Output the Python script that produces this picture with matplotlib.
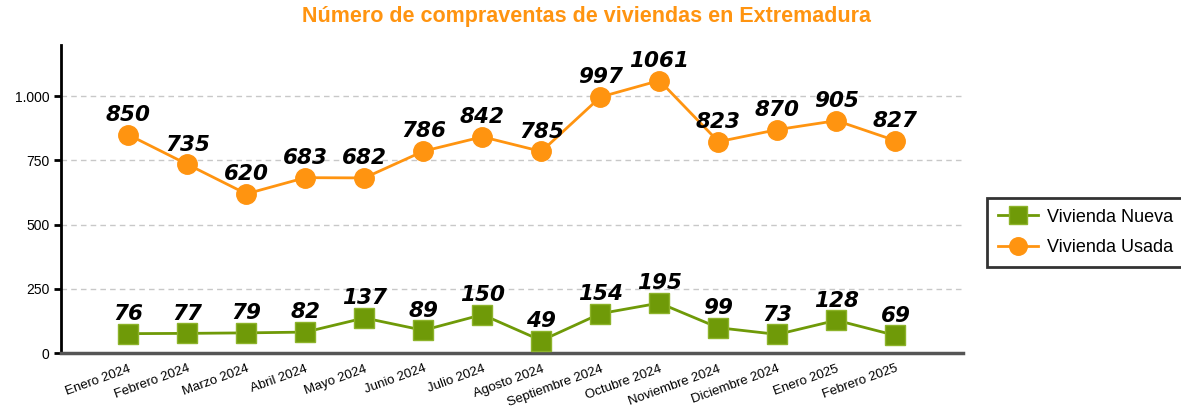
import matplotlib
matplotlib.use("Agg")
import matplotlib.pyplot as plt
from matplotlib.ticker import FuncFormatter

months = ["Enero 2024", "Febrero 2024", "Marzo 2024", "Abril 2024", "Mayo 2024",
          "Junio 2024", "Julio 2024", "Agosto 2024", "Septiembre 2024", "Octubre 2024",
          "Noviembre 2024", "Diciembre 2024", "Enero 2025", "Febrero 2025"]
nueva = [76, 77, 79, 82, 137, 89, 150, 49, 154, 195, 99, 73, 128, 69]
usada = [850, 735, 620, 683, 682, 786, 842, 785, 997, 1061, 823, 870, 905, 827]

ORANGE = "#FF9410"
GREEN = "#6F9A08"

plt.rcParams["font.family"] = ["Liberation Sans", "DejaVu Sans"]

fig = plt.figure(figsize=(11.81, 4.15), dpi=100)
ax = fig.add_axes([0.0517, 0.149, 0.764, 0.743])

x = list(range(len(months)))
ax.plot(x, nueva, color=GREEN, lw=2, marker="s", ms=14, mec="#8DB32A", mew=1,
        label="Vivienda Nueva", zorder=3)
ax.plot(x, usada, color=ORANGE, lw=2, marker="o", ms=14, mec=ORANGE,
        label="Vivienda Usada", zorder=3)

# data labels above each point
for series in (nueva, usada):
    for xi, v in zip(x, series):
        ax.annotate(str(v), (xi, v), xytext=(0, 7), textcoords="offset points",
                    ha="center", va="bottom", fontsize=15.5, fontweight="bold",
                    fontstyle="italic", family="DejaVu Sans")

ax.set_xlim(-1.14, 14.15)
ax.set_ylim(0, 1200)
ax.set_yticks([0, 250, 500, 750, 1000])
ax.yaxis.set_major_formatter(FuncFormatter(lambda v, p: f"{int(v):,}".replace(",", ".")))
ax.set_xticks(x)
ax.set_xticklabels(months, rotation=20, ha="right", rotation_mode="anchor", fontsize=9.5)
ax.tick_params(axis="x", length=0, pad=7)
ax.tick_params(axis="y", labelsize=10, width=2, length=5)

ax.grid(axis="y", color="#C8C8C8", ls=(0, (4, 3)), lw=1)
ax.set_axisbelow(True)
for s in ["top", "right"]:
    ax.spines[s].set_visible(False)
ax.spines["left"].set_linewidth(2)
ax.spines["bottom"].set_linewidth(2.5)
ax.spines["bottom"].set_color("#555555")

fig.suptitle("Número de compraventas de viviendas en Extremadura", color=ORANGE,
             fontsize=15.5, fontweight="bold", x=0.497, y=0.985)

leg = fig.legend(loc="center left", bbox_to_anchor=(0.836, 0.44), fontsize=13,
                 frameon=True, fancybox=False, edgecolor="black", markerscale=0.9,
                 handlelength=2.2, handletextpad=0.5, borderpad=0.6,
                 borderaxespad=0, labelspacing=0.75)
leg.get_frame().set_linewidth(2)

fig.savefig("out.png", dpi=100)
